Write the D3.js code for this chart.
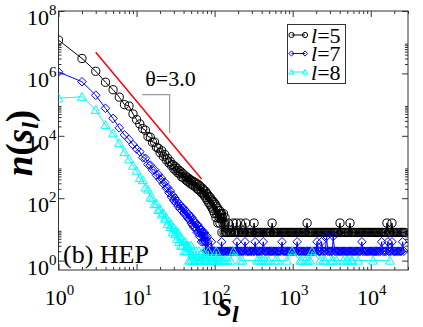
<!DOCTYPE html>
<html><head><meta charset="utf-8">
<script src="https://cdn.jsdelivr.net/npm/d3@7"></script>
<style>body{margin:0;background:#fff}svg{display:block}</style>
</head><body><svg id="c" width="423" height="327"></svg>
<script>
// ---- data (plotted values of n(s_l)) ----
const seriesL5 = [[1,1.17e7],[2,3.0e6],[3,1.17e6],[4,5.2e5],[5,3.0e5],[6,1.74e5],[7,1.0e5],[8,9.0e4],[9,5.0e4],[10,3.3e4],[11,2.4e4],[12,1.7e4],[13,1.5e4],[14,9500],[15,9000],[16,6200],[17,6300],[18,4300],[19,4000],[20,2900],[21,3300],[22,2200],[23,2500],[24,1700],[25,1900],[26,1350],[27,1500],[28,1100],[29,1200],[30,880],[31,1050],[32,760],[33,900],[34,650],[35,780],[36,600],[37,700],[38,480],[39,620],[40,450],[42,520],[43,380],[44,470],[45,350],[46,440],[47,330],[48,400],[49,290],[50,370],[52,270],[53,350],[54,250],[56,320],[57,230],[58,290],[60,200],[61,280],[62,190],[64,250],[65,170],[66,230],[68,150],[70,208],[71,136],[72,184],[74,120],[76,168],[77,104],[79,144],[80,88],[82,128],[84,72],[85,112],[87,64],[88,104],[90,56],[91,88],[93,48],[95,80],[96,40],[98,72],[100,32],[102,64],[104,24],[105,56],[107,32],[109,48],[110,16],[112,40],[114,24],[116,40],[117,16],[119,32],[121,24],[123,32],[124,8],[126,24],[128,16],[130,32],[132,8],[134,16],[136,24]];
const tailL5 = [[138,8],[141,8],[145,8],[149,16],[152,8],[157,8],[161,8],[166,8],[173,16],[175,8],[181,8],[186,8],[190,16],[197,8],[203,8],[209,8],[215,16],[221,8],[228,8],[236,8],[243,8],[250,16],[258,8],[266,8],[274,8],[283,8],[292,8],[300,8],[311,8],[320,16],[330,8],[342,8],[353,8],[365,8],[378,8],[390,8],[402,8],[416,8],[430,8],[445,8],[460,8],[476,8],[491,8],[508,8],[525,8],[545,16],[563,8],[580,8],[601,8],[622,8],[643,8],[665,8],[688,8],[712,8],[737,8],[760,8],[788,8],[815,8],[842,8],[871,8],[902,8],[935,8],[966,8],[1000,8],[1035,8],[1072,8],[1108,8],[1148,8],[1190,8],[1230,8],[1272,8],[1318,8],[1365,8],[1410,8],[1460,8],[1528,16],[1565,8],[1620,8],[1675,8],[1735,8],[1798,8],[1860,8],[1925,8],[1993,8],[2060,8],[2135,8],[2210,8],[2288,8],[2368,8],[2450,8],[2538,8],[2625,8],[2720,8],[2815,8],[2910,8],[3015,8],[3120,8],[3228,8],[3342,8],[3460,8],[3580,8],[3705,8],[3835,8],[4040,16],[4110,8],[4250,8],[4400,8],[4560,8],[4710,8],[4880,8],[5050,8],[5230,8],[5420,16],[5600,8],[5800,8],[6000,8],[6210,8],[6430,8],[6655,8],[6890,8],[7130,8],[7380,8],[7640,8],[7910,8],[8190,8],[8480,8],[8770,8],[9080,8],[9400,8],[9730,8],[10070,8],[10420,8],[10790,8],[11170,8],[11560,8],[11960,8],[12380,8],[12820,8],[13270,8],[13730,8],[14220,8],[14710,8],[15230,8],[15760,8],[16100,16],[16890,8],[17480,8],[18090,8],[18680,16],[19390,8],[20070,8],[20770,8],[21500,8],[22250,8],[23030,8],[23840,8],[24680,8],[25540,8],[26440,8],[27370,8]];

const seriesL7 = [[1,1.12e6],[2,5.4e5],[3,2.0e5],[4,7.6e4],[5,3.6e4],[6,1.8e4],[7,1.07e4],[8,7600],[9,5200],[10,3800],[11,3100],[12,2000],[13,1900],[14,1200],[15,1150],[16,800],[17,820],[18,540],[19,580],[20,400],[21,430],[22,290],[23,320],[24,210],[25,220],[26,150],[27,170],[28,110],[29,124],[30,84],[31,100],[32,70],[33,80],[34,56],[35,66],[36,46],[37,56],[38,40],[39,50],[40,34],[41,44],[42,30],[43,38],[44,26],[45,34],[46,22],[47,30],[48,20],[49,26],[50,16],[51,24],[52,14],[53,20],[54,12],[55,18],[56,12],[57,16],[58,10],[59,14],[60,8],[61,14],[62,8],[63,12],[64,6],[65,10],[66,8],[67,10],[68,4],[69,8],[70,6],[71,8],[72,4],[73,6],[74,8],[75,4],[76,6],[77,2],[78,4],[80,6],[81,2],[82,4]];
const tailL7 = [[84,2],[86,2],[89,2],[91,4],[94,2],[97,2],[100,2],[103,2],[106,2],[110,2],[113,2],[117,2],[121,2],[123,4],[126,2],[130,2],[135,2],[140,2],[144,2],[149,2],[154,2],[160,2],[165,2],[171,2],[177,2],[183,2],[189,2],[193,4],[199,2],[206,2],[213,2],[220,2],[228,2],[236,2],[245,4],[253,2],[262,2],[271,2],[281,2],[291,2],[301,2],[312,2],[323,2],[330,4],[341,2],[354,2],[366,2],[379,2],[392,2],[406,2],[420,4],[435,2],[450,2],[466,2],[482,2],[499,2],[517,2],[535,2],[554,2],[573,2],[593,2],[614,2],[636,2],[658,2],[681,2],[705,2],[730,4],[756,2],[782,2],[810,2],[838,2],[868,2],[898,2],[930,2],[962,2],[996,2],[1031,2],[1068,2],[1105,2],[1140,4],[1185,2],[1226,2],[1270,2],[1314,2],[1360,2],[1408,2],[1458,2],[1509,2],[1562,2],[1617,2],[1674,2],[1733,2],[1794,2],[1857,2],[1922,2],[1990,2],[2050,4],[2130,2],[2205,2],[2282,2],[2340,4],[2445,2],[2531,2],[2620,2],[2720,6],[2807,2],[2906,2],[3008,2],[3114,2],[3223,2],[3300,6],[3454,2],[3575,2],[3701,2],[3831,2],[3966,2],[4105,2],[4250,2],[4399,2],[4554,2],[4714,2],[4880,2],[5051,2],[5229,2],[5413,2],[5603,2],[5800,2],[6004,2],[6215,2],[6434,2],[6660,2],[6894,2],[7137,2],[7388,2],[7700,4],[7916,2],[8195,2],[8483,2],[8781,2],[9090,2],[9410,2],[9741,2],[10083,2],[10438,2],[10805,2],[11185,2],[11578,2],[11985,2],[12406,2],[12842,2],[13293,2],[13800,4],[14244,2],[14745,2],[15263,2],[15800,2],[16600,4],[16930,2],[17525,2],[18141,2],[18700,4],[19439,2],[20123,2],[20830,2],[21562,2],[22320,2],[23105,2],[23917,2],[24757,2],[25600,4],[26530,2]];

const seriesL8 = [[1,1.6e5],[2,1.78e5],[3,6.8e4],[4,2.24e4],[5,1.2e4],[6,5800],[7,3000],[8,1760],[9,1100],[10,760],[11,440],[12,380],[13,220],[14,190],[15,105],[16,100],[17,64],[18,66],[19,42],[20,46],[21,30],[22,33],[23,22],[24,24],[25,15],[26,18],[27,12],[28,14],[29,8],[30,11],[31,7],[32,9],[33,5],[34,8],[35,4],[36,6],[37,3],[38,5],[39,3],[40,4],[41,2],[42,4],[43,2],[44,3],[45,2],[46,3],[47,1],[48,2],[49,1],[50,3],[52,1],[53,2],[55,1],[56,1],[58,2],[60,1],[62,1],[63,2],[65,1],[67,1],[69,1],[71,2],[73,1],[75,1],[78,1],[80,1],[83,2],[86,1],[89,1],[92,1],[96,1],[100,1],[105,2],[108,1],[112,1],[117,1],[122,1],[128,1]];
const tailL8 = [[135,1],[146,1],[160,1],[175,2],[212,1],[228,1],[350,1],[372,1],[395,1],[420,1],[452,1],[488,1],[598,1],[645,1],[842,1],[982,2],[1245,1],[1320,1],[1442,1],[1560,1],[1670,1],[1770,2],[2240,1],[2450,1],[2605,1],[3150,1],[3300,1],[3640,1],[4440,1],[4900,1],[5130,1],[5660,1],[5800,1],[6870,1],[10700,1],[17600,1]];

const legendValues = ["5", "7", "8"];
const seriesColors = ["#000000", "#0000ff", "#00ffff"];
const xTickExps = [0, 1, 2, 3, 4];
const yTickExps = [0, 2, 4, 6, 8];
const fitS = [3, 68];
const fitN = [4.8e6, 413];
const bracketS = [11.8, 26.5, 26.5];
const bracketN = [2.1e5, 2.1e5, 1.23e4];
const slopeText = "θ=3.0";
const slopeTextPos = [12.9, 4.0e5];
const panelText = "(b) HEP";

// ---- layout ----
const L = 58.5, R = 408, T = 11, B = 270;
const FONT = '"Liberation Serif"';
const svg = d3.select("#c");
const x = d3.scaleLog().domain([1, 3e4]).range([L, R]);
const y = d3.scaleLog().domain([0.5, 1e8]).range([B, T]);

function txt(parent) {
  return parent.append("text").style("font-family", FONT);
}

svg.append("defs").append("clipPath").attr("id", "clip")
  .append("rect").attr("x", L).attr("y", T).attr("width", R - L).attr("height", B - T);

// ---- axes ----
const xMajor = xTickExps.map(e => Math.pow(10, e));
const xMinor = [];
for (let e = 0; e <= 4; e++) for (let k = 2; k <= 9; k++) { const v = k * Math.pow(10, e); if (v <= 3e4) xMinor.push(v); }
const yMajor = yTickExps.map(e => Math.pow(10, e));
const yMinor = [];
[0, 2, 4, 6].forEach(e => { for (let k = 2; k <= 9; k++) yMinor.push(k * Math.pow(10, e)); });

const axisColor = "#333";
function styleAxis(g) {
  g.select(".domain").remove();
  g.selectAll("line").attr("stroke", axisColor).attr("stroke-width", 1);
  g.selectAll("text").remove();
}
svg.append("g").attr("transform", `translate(0,${B})`).call(d3.axisBottom(x).tickValues(xMajor).tickSize(-6)).call(styleAxis);
svg.append("g").attr("transform", `translate(0,${B})`).call(d3.axisBottom(x).tickValues(xMinor).tickSize(-3)).call(styleAxis);
svg.append("g").attr("transform", `translate(0,${T})`).call(d3.axisTop(x).tickValues(xMajor).tickSize(-6)).call(styleAxis);
svg.append("g").attr("transform", `translate(0,${T})`).call(d3.axisTop(x).tickValues(xMinor).tickSize(-3)).call(styleAxis);
svg.append("g").attr("transform", `translate(${L},0)`).call(d3.axisLeft(y).tickValues(yMajor).tickSize(-6)).call(styleAxis);
svg.append("g").attr("transform", `translate(${L},0)`).call(d3.axisLeft(y).tickValues(yMinor).tickSize(-3)).call(styleAxis);
svg.append("g").attr("transform", `translate(${R},0)`).call(d3.axisRight(y).tickValues(yMajor).tickSize(-6)).call(styleAxis);
svg.append("g").attr("transform", `translate(${R},0)`).call(d3.axisRight(y).tickValues(yMinor).tickSize(-3)).call(styleAxis);

svg.append("rect").attr("x", L).attr("y", T).attr("width", R - L).attr("height", B - T)
  .attr("fill", "none").attr("stroke", axisColor).attr("stroke-width", 1);

// tick labels
xTickExps.forEach(e => {
  const t = txt(svg).attr("x", x(Math.pow(10, e)) + 1).attr("y", B + 35)
    .attr("text-anchor", "middle").attr("font-size", 22);
  t.append("tspan").text("10");
  t.append("tspan").attr("dy", -10).attr("font-size", 15).text(e);
});
yTickExps.forEach(e => {
  const t = txt(svg).attr("x", L - 2).attr("y", y(Math.pow(10, e)) + 14)
    .attr("text-anchor", "end").attr("font-size", 22);
  t.append("tspan").text("10");
  t.append("tspan").attr("dy", -10).attr("font-size", 15).text(e);
});

// axis titles
const yt = txt(svg).attr("transform", `translate(32,143) rotate(-90)`)
  .attr("text-anchor", "middle").attr("font-size", 37).style("font-weight", "bold");
yt.append("tspan").style("font-style", "italic").text("n");
yt.append("tspan").text("(");
yt.append("tspan").style("font-style", "italic").text("s");
yt.append("tspan").style("font-style", "italic").attr("font-size", 24).attr("dy", 6).text("l");
yt.append("tspan").attr("dy", -6).text(")");

const xt = txt(svg).attr("x", 218).attr("y", 316)
  .attr("font-size", 36).style("font-weight", "bold");
xt.append("tspan").style("font-style", "italic").text("s");
xt.append("tspan").style("font-style", "italic").attr("font-size", 24).attr("dy", 6).text("l");

// ---- markers ----
function marker(g, kind, color, r) {
  if (kind === "circle") return g.append("circle").attr("r", r).attr("fill", "none").attr("stroke", color).attr("stroke-width", 1);
  if (kind === "diamond") return g.append("path").attr("d", `M0,${-r}L${r},0L0,${r}L${-r},0Z`).attr("fill", "none").attr("stroke", color).attr("stroke-width", 1);
  return g.append("path").attr("d", `M0,${-r}L${r},${r * 0.8}L${-r},${r * 0.8}Z`).attr("fill", "none").attr("stroke", color).attr("stroke-width", 1);
}
const kinds = ["circle", "diamond", "triangle"];
const sizesPx = [4.1, 4.3, 4.4];
const allSeries = [seriesL5.concat(tailL5), seriesL7.concat(tailL7), seriesL8.concat(tailL8)];

const plot = svg.append("g").attr("clip-path", "url(#clip)");
const line = d3.line().x(d => x(d[0])).y(d => y(d[1]));
allSeries.forEach((data, i) => {
  const g = plot.append("g");
  g.append("path").datum(data).attr("d", line).attr("fill", "none").attr("stroke", seriesColors[i]).attr("stroke-width", 1);
  data.forEach(d => {
    const m = g.append("g").attr("transform", `translate(${x(d[0])},${y(d[1])})`);
    marker(m, kinds[i], seriesColors[i], sizesPx[i]);
  });
});

// fit line
plot.append("line").attr("x1", x(fitS[0])).attr("y1", y(fitN[0])).attr("x2", x(fitS[1])).attr("y2", y(fitN[1]))
  .attr("stroke", "#ff0000").attr("stroke-width", 1.5);
// bracket
svg.append("path").datum(bracketS.map((s, i) => [s, bracketN[i]])).attr("d", line)
  .attr("fill", "none").attr("stroke", "#999").attr("stroke-width", 1.2);
txt(svg).attr("x", x(slopeTextPos[0])).attr("y", y(slopeTextPos[1]))
  .attr("font-size", 22).text(slopeText);

// panel label
txt(svg).attr("x", 63).attr("y", 263).attr("font-size", 26).text(panelText);

// ---- legend ----
const lg = svg.append("g");
lg.append("rect").attr("x", 287.5).attr("y", 24.5).attr("width", 58).attr("height", 59)
  .attr("fill", "#fff").attr("stroke", axisColor).attr("stroke-width", 1);
legendValues.forEach((v, i) => {
  const cy = 35 + i * 18.5;
  lg.append("line").attr("x1", 291.5).attr("x2", 305).attr("y1", cy).attr("y2", cy).attr("stroke", seriesColors[i]).attr("stroke-width", 1);
  [291.5, 305].forEach(cx => {
    const m = lg.append("g").attr("transform", `translate(${cx},${cy})`);
    marker(m, kinds[i], seriesColors[i], 2.6);
  });
  const t = txt(lg).attr("x", 311).attr("y", cy + 7.5).attr("font-size", 22);
  t.append("tspan").style("font-style", "italic").text("l");
  t.append("tspan").text("=" + v);
});
</script></body></html>
